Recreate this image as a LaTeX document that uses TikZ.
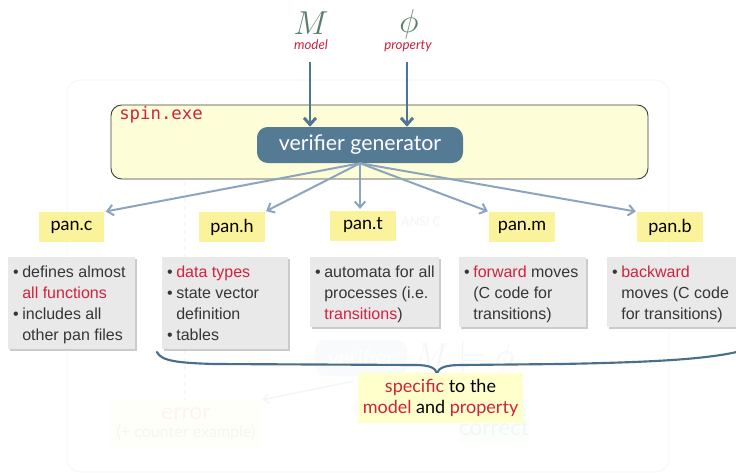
\documentclass[tikz,border=0pt]{standalone}
\usepackage{fontspec}
\setmainfont{Lato}
\setsansfont{Liberation Sans}
\setmonofont{DejaVu Sans Mono}
\usetikzlibrary{arrows.meta,shadows}

\definecolor{accentred}{HTML}{D0223F}
\definecolor{mathgreen}{HTML}{5A7E6C}
\definecolor{darkarrowc}{HTML}{4F7592}
\definecolor{genfill}{HTML}{557A94}
\definecolor{lightarrowc}{HTML}{8CA5BE}
\definecolor{spinfill}{HTML}{FDFDD8}
\definecolor{labelfill}{HTML}{FBF29C}
\definecolor{boxgray}{HTML}{E9E9E9}
\definecolor{notefill}{HTML}{FFFFCC}
\definecolor{bodytext}{HTML}{363636}
\definecolor{bracec}{HTML}{4A6F8C}

% bullet and hanging indent for the file descriptions
\newcommand{\bul}{\makebox[0.58em][l]{•}}
\newcommand{\ind}{\hspace*{0.58em}}
\newcommand{\hl}[1]{\textcolor{accentred}{#1}}

\begin{document}
\begin{tikzpicture}[x=0.75pt,y=-0.75pt,
  darkarrow/.style={draw=darkarrowc, line width=2.2pt,
    -{Straight Barb[length=5pt,width=9pt]}},
  lightarrow/.style={draw=lightarrowc, line width=1.5pt,
    -{Straight Barb[length=4.5pt,width=8pt]}, shorten >=1pt},
  genbox/.style={fill=genfill, rounded corners=8pt, minimum width=154.5pt,
    minimum height=27pt, inner sep=0pt, text=white, font=\fontsize{16}{18}\selectfont},
  panlabel/.style={fill=labelfill, minimum width=49pt, minimum height=22.5pt,
    inner sep=0pt, text=black, font=\fontsize{13.5}{16}\selectfont},
  infobox/.style={fill=boxgray, anchor=north west, inner sep=0pt,
    drop shadow={shadow xshift=1.6pt, shadow yshift=-1.6pt, fill=black!45, opacity=0.45}},
  infotext/.style={anchor=north west, inner sep=0pt, align=left, text=bodytext,
    font=\sffamily\fontsize{12}{15.75}\selectfont},
  ghost/.style={inner sep=0pt},
]
\useasboundingbox[fill=white] (0,0) rectangle (736,475);

% faded backdrop left over from the earlier overview
\draw[black!2.5, line width=1pt, rounded corners=10pt] (67,80) rectangle (669,472);
\draw[black!3, line width=1.5pt, dashed] (185,182) -- (185,405);
\node[ghost, font=\itshape\fontsize{10}{12}\selectfont, text=black!4] (ansic) at (421,222) {ANSI C};
\node[ghost, fill=genfill!4, rounded corners=8pt, minimum width=69pt, minimum height=27pt,
  text=white, font=\fontsize{16}{18}\selectfont] (gver) at (361,358) {verifier};
\node[ghost, anchor=west, text=black!3.5, font=\fontsize{27}{30}\selectfont] (gsat)
  at ([xshift=5pt]gver.east) {$M\models\phi$};
\node[ghost, fill=yellow!2.5, minimum width=114pt, minimum height=36pt, align=center,
  font=\fontsize{12}{14}\selectfont, text=black!4] (gerr) at (186,424)
  {\textcolor{red!5}{\fontsize{17}{18}\selectfont error}\\(+ counter example)};
\node[ghost, fill=green!1.5, minimum width=52pt, minimum height=22pt,
  text=black!4, font=\fontsize{17}{18}\selectfont] (gcor) at (494,428) {correct};
\draw[black!3.5, line width=1.2pt, -{Straight Barb[length=4pt,width=7pt]}]
  (gver.south) ++(-8,5) -- (gerr.north east);

% inputs of the generator
\node[anchor=base, inner sep=0pt, text=mathgreen, font=\fontsize{27.5}{30}\selectfont] (Msym) at (311,34) {$M$};
\node[anchor=base, inner sep=0pt, text=mathgreen, font=\fontsize{27.5}{30}\selectfont] (phisym) at (409,32) {$\phi$};
\node[anchor=base, inner sep=0pt, text=accentred, font=\itshape\fontsize{10}{12}\selectfont] (model) at (311,49) {model};
\node[anchor=base, inner sep=0pt, text=accentred, font=\itshape\fontsize{10}{12}\selectfont] (property) at (408,49) {property};

% the spin executable and its generator
\node[draw=black!75, line width=0.7pt, fill=spinfill, rounded corners=8pt,
  minimum width=402.75pt, minimum height=55.5pt, inner sep=0pt] (spin) at (379.5,142) {};
\node[anchor=base west, inner sep=0pt, text=accentred, font=\ttfamily\fontsize{13}{15}\selectfont]
  (spinname) at (119,119) {spin.exe};
\node[genbox] (gen) at (360,145) {verifier generator};

\coordinate (mtop) at (310,62);
\coordinate (ptop) at (407,62);
\draw[darkarrow] (mtop) -- (mtop |- gen.north);
\draw[darkarrow] (ptop) -- (ptop |- gen.north);

% generated files
\node[panlabel] (panc) at (71.5,227) {pan.c};
\node[panlabel] (panh) at (232,227) {pan.h};
\node[panlabel] (pant) at (363,225.5) {pan.t};
\node[panlabel] (panm) at (522,227) {pan.m};
\node[panlabel] (panb) at (670,227) {pan.b};

\draw[lightarrow] (gen.south) -- (panc.north east);
\draw[lightarrow] (gen.south) -- (panh.north east);
\draw[lightarrow] (gen.south) -- (gen.south |- pant.north);
\draw[lightarrow] (gen.south) -- (panm.north west);
\draw[lightarrow] (gen.south) -- (panb.north west);

% descriptions of the files
\node[infobox, minimum width=95.25pt, minimum height=69pt] (boxc) at (8,257) {};
\node[infobox, minimum width=94.5pt, minimum height=69pt] (boxh) at (162,257) {};
\node[infobox, minimum width=96.75pt, minimum height=52.5pt] (boxt) at (310,257) {};
\node[infobox, minimum width=95.25pt, minimum height=52.5pt] (boxm) at (459,257) {};
\node[infobox, minimum width=101.25pt, minimum height=52.5pt] (boxb) at (607,257) {};

\node[infotext] (txtc) at ([xshift=3.6pt,yshift=-4pt]boxc.north west)
  {\strut\bul defines almost\\ \ind\hl{all functions}\\ \bul includes all\\ \ind other pan files};
\node[infotext] (txth) at ([xshift=3.6pt,yshift=-4pt]boxh.north west)
  {\strut\bul\hl{data types}\\ \bul state vector\\ \ind definition\\ \bul tables};
\node[infotext] (txtt) at ([xshift=3.6pt,yshift=-4pt]boxt.north west)
  {\strut\bul automata for all\\ \ind processes (i.e.\\ \ind\hl{transitions})};
\node[infotext] (txtm) at ([xshift=3.6pt,yshift=-4pt]boxm.north west)
  {\strut\bul\hl{forward} moves\\ \ind(C code for\\ \ind transitions)};
\node[infotext] (txtb) at ([xshift=3.6pt,yshift=-4pt]boxb.north west)
  {\strut\bul\hl{backward}\\ \ind moves (C code\\ \ind for transitions)};

% brace over the model-specific files
\draw[bracec, line width=1.6pt, line cap=round]
  (157,352) .. controls (161,361) and (178,363) .. (215,364)
  -- (415,365) .. controls (430,365) and (436,368) .. (437,374)
  .. controls (438,368) and (444,365) .. (462,365)
  -- (560,364) .. controls (670,362) and (715,358) .. (745,350);

\node[fill=notefill, minimum width=123.75pt, minimum height=37.5pt, inner sep=0pt,
  align=center, font=\fontsize{13.5}{15.75}\selectfont] (note) at (440.5,398)
  {\hl{specific} to the\\ \hl{model} and \hl{property}};
\end{tikzpicture}
\end{document}
